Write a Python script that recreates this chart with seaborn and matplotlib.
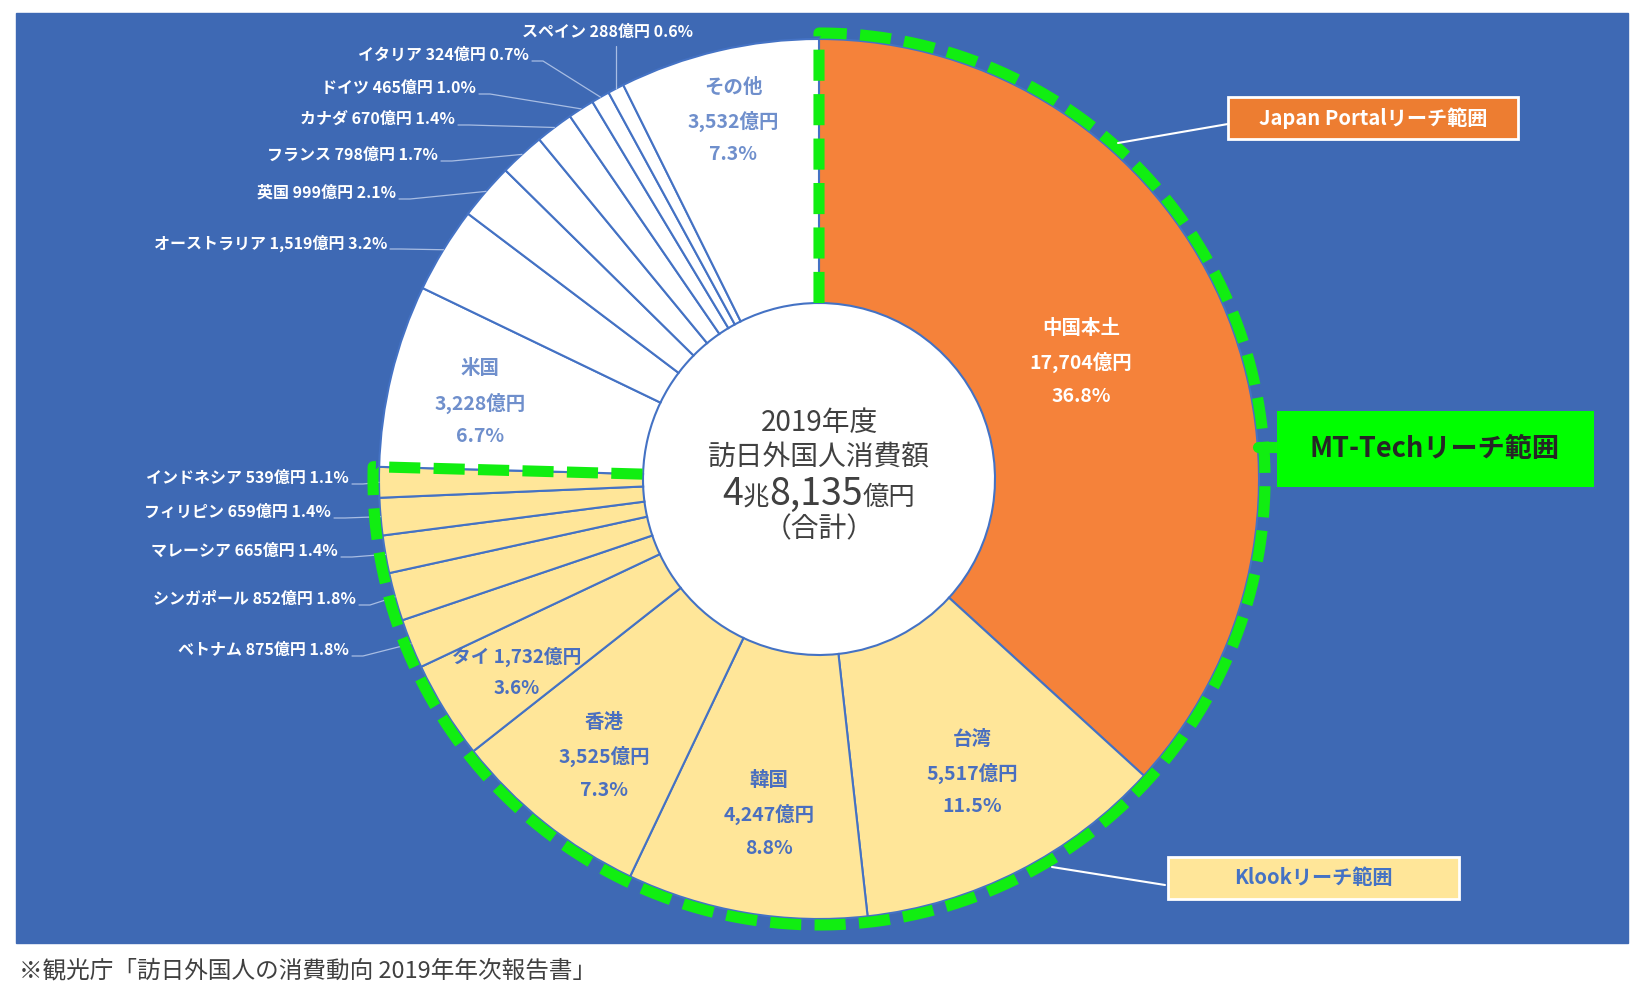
import matplotlib.pyplot as plt
import matplotlib.patches as mpatches
import numpy as np
import seaborn as sns

# 2019 visitor spending in Japan (億円), clockwise from 12 o'clock
countries = ['中国本土', '台湾', '韓国', '香港', 'タイ', 'ベトナム', 'シンガポール', 'マレーシア',
             'フィリピン', 'インドネシア', '米国', 'オーストラリア', '英国', 'フランス', 'カナダ',
             'ドイツ', 'イタリア', 'スペイン', 'その他']
spend = [17704, 5517, 4247, 3525, 1732, 875, 852, 665, 659, 539,
         3228, 1519, 999, 798, 670, 465, 324, 288, 3532]
share = [36.8, 11.5, 8.8, 7.3, 3.6, 1.8, 1.8, 1.4, 1.4, 1.1,
         6.7, 3.2, 2.1, 1.7, 1.4, 1.0, 0.7, 0.6, 7.3]
reach = ['portal'] + ['klook'] * 9 + ['none'] * 9

center_lines = ['2019年度', '訪日外国人消費額', '（合計）']
total_parts = ['4', '兆', '8,135', '億円']
footnote = '※観光庁「訪日外国人の消費動向 2019年年次報告書」'

W, H = 1642, 992
CX, CY = 819, 479          # pie centre in image pixels (y down)
R, R_IN = 440, 176

BG = '#3E69B4'
EDGE = '#4472C4'
GREEN = '#11EE11'
fill = {'portal': '#F5823A', 'klook': '#FFE699', 'none': '#FFFFFF'}


def Y(y):
    # image pixel row -> axes y
    return H - y


sns.set_theme(style='white')
plt.rcParams['font.family'] = ['Noto Sans CJK JP', 'DejaVu Sans']

fig = plt.figure(figsize=(W / 100, H / 100), dpi=100)
ax = fig.add_axes([0, 0, 1, 1])

ax.add_patch(mpatches.Rectangle((16, Y(943)), 1612, 930, color=BG, zorder=0))
ax.add_patch(mpatches.Circle((CX, Y(CY)), R_IN, color='white', zorder=0.5))

wedges, _ = ax.pie(spend, colors=[fill[g] for g in reach], startangle=90, counterclock=False,
                   radius=R, center=(CX, Y(CY)), frame=True,
                   wedgeprops=dict(width=R - R_IN, edgecolor=EDGE, linewidth=1.5))
ax.set_xlim(0, W)
ax.set_ylim(0, H)
ax.set_aspect('auto')
ax.axis('off')

# green dashed outline around the China + Klook wedges
t0 = wedges[0].theta2
t1 = wedges[9].theta1
rd = R + 6
arc = np.radians(np.linspace(t0, t1, 400))
xs = np.concatenate([[CX], CX + rd * np.cos(arc), [CX + R_IN * np.cos(arc[-1])]])
ys = np.concatenate([[Y(CY) + R_IN], Y(CY) + rd * np.sin(arc), [Y(CY) + R_IN * np.sin(arc[-1])]])
ax.plot(xs, ys, color=GREEN, lw=8, linestyle=(0, (2.8, 1.2)), dash_capstyle='butt',
        solid_joinstyle='round', zorder=5)


def fmt(i):
    return f'{spend[i]:,}億円', f'{share[i]:.1f}%'


# labels inside the ring
inside = {'中国本土': (1081, 328), '台湾': (972, 739), '韓国': (769, 780),
          '香港': (604, 722), '米国': (480, 369), 'その他': (733, 87)}
for name, (x, y) in inside.items():
    i = countries.index(name)
    col = 'white' if reach[i] == 'portal' else ('#4A6FBF' if reach[i] == 'klook' else '#6F8FCC')
    for k, s in enumerate([name, *fmt(i)]):
        ax.text(x, Y(y + 34 * k), s, ha='center', va='center', fontsize=14,
                fontweight='bold', color=col, zorder=6)

i = countries.index('タイ')
amt, pct = fmt(i)
ax.text(517, Y(657), f'タイ {amt}', ha='center', va='center', fontsize=13.5,
        fontweight='bold', color='#4A6FBF', zorder=6)
ax.text(517, Y(688), pct, ha='center', va='center', fontsize=13.5,
        fontweight='bold', color='#4A6FBF', zorder=6)

# labels outside with leader lines
outside = {'イタリア': (529, 55), 'ドイツ': (476, 88), 'カナダ': (455, 119),
           'フランス': (438, 155), '英国': (396, 193), 'オーストラリア': (387, 243),
           'インドネシア': (349, 478), 'フィリピン': (331, 512), 'マレーシア': (338, 551),
           'シンガポール': (356, 599), 'ベトナム': (349, 650)}
LEAD = '#A8BDE3'


def edge_point(i):
    w = wedges[i]
    a = np.radians((w.theta1 + w.theta2) / 2)
    return CX + R * np.cos(a), Y(CY) + R * np.sin(a)


for name, (x, y) in outside.items():
    i = countries.index(name)
    amt, pct = fmt(i)
    ax.text(x, Y(y), f'{name} {amt} {pct}', ha='right', va='center', fontsize=11.5,
            fontweight='bold', color='white', zorder=6)
    ex, ey = edge_point(i)
    ax.plot([x + 3, x + 14, ex], [Y(y + 6), Y(y + 6), ey], color=LEAD, lw=0.9, zorder=4)

i = countries.index('スペイン')
amt, pct = fmt(i)
ax.text(607, Y(32), f'スペイン {amt} {pct}', ha='center', va='center', fontsize=11.5,
        fontweight='bold', color='white', zorder=6)
ex, ey = edge_point(i)
ax.plot([ex, ex], [Y(46), ey], color=LEAD, lw=0.9, zorder=4)

# centre text
for s, y in zip(center_lines, [423, 457, 529]):
    ax.text(CX, Y(y), s, ha='center', va='center', fontsize=20, color='#404040', zorder=6)

parts = []
for s in total_parts:
    fs = 27 if s[0].isdigit() else 19
    parts.append(ax.text(0, Y(505), s, ha='left', va='baseline', fontsize=fs,
                         color='#404040', zorder=6))
fig.canvas.draw()
rend = fig.canvas.get_renderer()
widths = [t.get_window_extent(rend).width for t in parts]
x = CX - sum(widths) / 2
for t, w in zip(parts, widths):
    t.set_x(x)
    x += w

# reach boxes
ax.add_patch(mpatches.Rectangle((1228, Y(139)), 290, 42, facecolor='#ED7D31',
                                edgecolor='white', lw=2, zorder=6))
ax.text(1373, Y(118), 'Japan Portalリーチ範囲', ha='center', va='center', fontsize=14.5,
        fontweight='bold', color='white', zorder=7)
ax.plot([1118, 1228], [Y(143), Y(124)], color='white', lw=1.5, zorder=5)

ax.add_patch(mpatches.Rectangle((1277, Y(487)), 317, 76, facecolor='#00FF00',
                                edgecolor='none', zorder=6))
ax.text(1435, Y(449), 'MT-Techリーチ範囲', ha='center', va='center', fontsize=19.5,
        fontweight='bold', color='#262626', zorder=7)
ax.plot([1258, 1280], [Y(447), Y(447)], color=GREEN, lw=8, zorder=5)

ax.add_patch(mpatches.Rectangle((1168, Y(899)), 291, 42, facecolor='#FFE699',
                                edgecolor='white', lw=2, zorder=6))
ax.text(1313, Y(878), 'Klookリーチ範囲', ha='center', va='center', fontsize=14.5,
        fontweight='bold', color='#4472C4', zorder=7)
ax.plot([1052, 1165], [Y(867), Y(885)], color='white', lw=1.5, zorder=5)

ax.text(19, Y(971), footnote, ha='left', va='center', fontsize=17, color='#404040')

fig.savefig('out.png', dpi=100, facecolor='white')
